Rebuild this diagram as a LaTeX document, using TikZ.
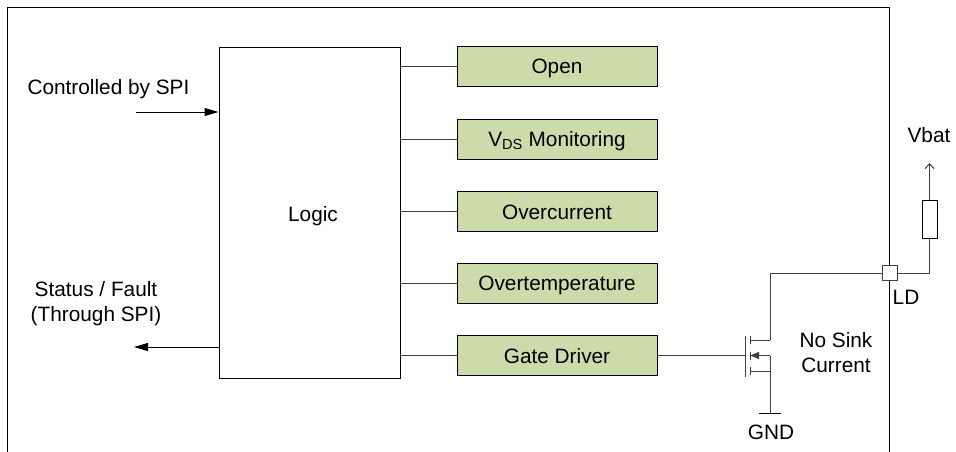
\documentclass[tikz,border=0pt]{standalone}
\usepackage{fontspec}
\setmainfont{Liberation Sans}
\usetikzlibrary{calc, positioning, arrows.meta}
\definecolor{boxgreen}{HTML}{CDDAA9}
\definecolor{wire}{HTML}{404040}
\tikzstyle{block}=[draw=black, fill=boxgreen, shape=rectangle, line width=1pt, minimum width=200pt, minimum height=40pt, inner sep=0pt, text height=15pt, text depth=0pt, font=\fontsize{20.8}{25}\selectfont]
\tikzstyle{logicbox}=[draw=black, fill=white, shape=rectangle, line width=1pt, minimum width=181pt, minimum height=330pt, inner sep=0pt]
\tikzstyle{pad}=[draw=wire, fill=white, shape=rectangle, line width=1pt, minimum size=15pt, inner sep=0pt]
\tikzstyle{res}=[draw=black, fill=white, shape=rectangle, line width=1pt, minimum width=15pt, minimum height=38pt, inner sep=0pt]
\tikzstyle{txt}=[inner sep=0pt, align=center, font=\fontsize{20.8}{25}\selectfont]
\tikzstyle{wr}=[draw=wire, line width=1pt]
\tikzset{>={Triangle[length=14pt, width=8pt]}}

\begin{document}
\begin{tikzpicture}[x=1pt, y=-1pt]
\useasboundingbox (0,0) rectangle (956,452);
% the outer frame, open at the bottom
\coordinate (FA) at (7,452);
\coordinate (FB) at (7,8);
\coordinate (FC) at (889.5,8);
\coordinate (FD) at (889.5,452);
\draw[line width=1pt] (FA) -- (FB) -- (FC) -- (FD);
% the logic and the five blocks
\node[logicbox] (L) at (309.5,213) {};
\node[txt] (Ltxt) at (313,216) {Logic};
\node[block] (B0) at (557,66.5) {Open};
\node[block] (B1) at (557,139) {V\textsubscript{DS} Monitoring};
\node[block] (B2) at (557,211.5) {Overcurrent};
\node[block] (B3) at (557,283) {Overtemperature};
\node[block] (B4) at (557,355.5) {Gate Driver};
\foreach \i in {0,...,4} {
  \draw[wr] (L.east |- B\i.west) -- (B\i.west);
}
% the SPI side
\coordinate (IN) at (136,112);
\coordinate (OUT) at (134,347);
\draw[line width=1pt, ->] (IN) -- (L.west |- IN);
\draw[line width=1pt, ->] (L.west |- OUT) -- (OUT);
\node[txt] (T0) at (108.5,89) {Controlled by SPI};
\node[txt] (T1) at (96,304) {Status / Fault\\(Through SPI)};
% the transistor
\coordinate (GT) at (745.5,336);
\coordinate (GB) at (745.5,377);
\coordinate (D) at (770,340);
\coordinate (S) at (770,355.5);
\coordinate (SL) at (750,355.5);
\coordinate (B) at (770,371);
\coordinate (BL) at (750,371);
\coordinate (DL) at (750,340);
\coordinate (GND) at (770,413);
\coordinate (GNDL) at (759,413);
\coordinate (GNDR) at (781,413);
\coordinate (TOP) at (770,273);
\draw[wr] (B4.east) -- (B4.east -| GT);
\draw[wr] (GT) -- (GB);
\draw[wr] ($(DL)+(0,-4)$) -- ($(DL)+(0,4)$);
\draw[wr] ($(SL)+(0,-4)$) -- ($(SL)+(0,4)$);
\draw[wr] ($(BL)+(0,-4)$) -- ($(BL)+(0,4)$);
\draw[wr] (DL) -- (D);
\draw[wr] (BL) -- (B);
\draw[wr, -{Triangle[length=9pt, width=7pt]}] (S) -- (SL);
\draw[wr] (S) -- (GND);
\draw[line width=1pt] (GNDL) -- (GNDR);
\node[txt] (T2) at (771,432.5) {GND};
\node[txt] (T3) at (836,353) {No Sink\\Current};
% the load
\node[pad] (P) at (889.5,273) {};
\node[res] (R) at (929.5,219) {};
\coordinate (V) at (929.5,163);
\draw[wr] (D) -- (TOP) -- (P);
\draw[wr] (P) -- (R.south |- P) -- (R.south);
\draw[wr, -{Straight Barb[length=5pt, width=9pt]}] (R.north) -- (V);
\node[txt] (T4) at (929,135) {Vbat};
\node[txt] (T5) at (906,297.5) {LD};
\end{tikzpicture}
\end{document}
